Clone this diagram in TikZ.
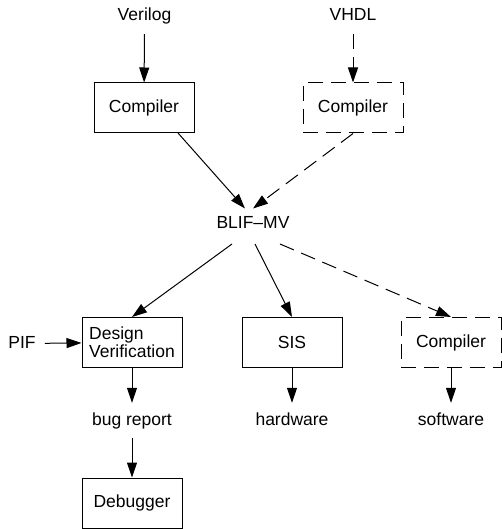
\documentclass[tikz,border=0pt]{standalone}
\usepackage{fontspec}
\setmainfont{Liberation Sans}
\usetikzlibrary{arrows.meta,positioning,calc}
\tikzset{every node/.style={ % Sets the font for all texts
            font=\fontsize{17.5}{18}\selectfont},
        box/.style={ % Tool boxes
            draw,
            line width=1pt,
            minimum width=100pt,
            minimum height=50pt,
            inner sep=0pt},
        dashedbox/.style={box, dash pattern=on 15pt off 8pt},
        lbl/.style={inner sep=9pt, text height=13pt, text depth=4pt},
        every edge/.style={ % Sets the properties for each connector
            draw,
            ->,>={Triangle[length=15pt,width=10pt]},
            line width=1pt},
        dashededge/.style={dash pattern=on 15pt off 8pt}
        }

\begin{document}
\begin{tikzpicture}[x=1pt,y=-1pt]
    \useasboundingbox (0,0) rectangle (502,529);

    \node[lbl] (verilog) at (144.5,16.5) {Verilog};
    \node[lbl] (vhdl) at (353,16.5) {VHDL};
    \node[box] (comp1) at (144,108) {Compiler};
    \node[dashedbox] (comp2) at (353,108) {Compiler};
    \node[lbl] (blif) at (253,223.5) {BLIF--MV};
    \node[box, align=left] (dv) at (132,342.5) {Design\\Verification};
    \node[box] (sis) at (292,342.5) {SIS};
    \node[dashedbox] (comp3) at (451,342.5) {Compiler};
    \node[lbl] (pif) at (22,343.5) {PIF};
    \node[lbl] (bug) at (132,420.5) {bug report};
    \node[lbl] (hw) at (292,420.5) {hardware};
    \node[lbl] (sw) at (451,420.5) {software};
    \node[box] (dbg) at (132,503) {Debugger};

    \draw
        (verilog)
            edge (comp1)
        (vhdl)
            edge [dashededge] (comp2)
        ($(comp1)+(34,25)$)
            edge ($(blif)+(-8,-15)$)
        (comp2.south)
            edge [dashededge] ($(blif)+(0,-15)$)
        ($(blif)+(-21,20.5)$)
            edge (dv.north)
        ($(blif)+(2,20.5)$)
            edge (sis.north)
        ($(blif)+(27,20.5)$)
            edge [dashededge] (comp3.north)
        (pif)
            edge (dv)
        (dv)
            edge (bug)
        (bug)
            edge (dbg)
        (sis)
            edge (hw)
        (comp3)
            edge (sw);
\end{tikzpicture}
\end{document}
